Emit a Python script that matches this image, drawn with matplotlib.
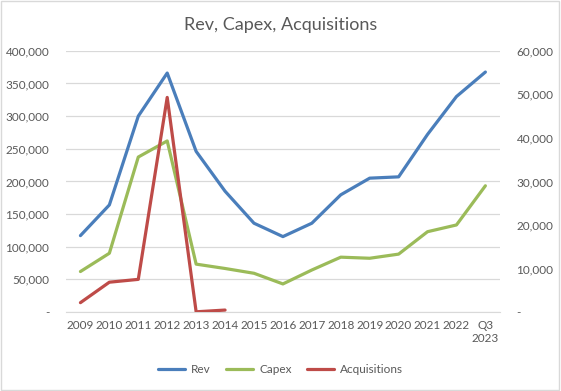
import numpy as np
import matplotlib
matplotlib.use("Agg")
import matplotlib.pyplot as plt
from matplotlib.ticker import FuncFormatter

# data
years = ["2009", "2010", "2011", "2012", "2013", "2014", "2015", "2016",
         "2017", "2018", "2019", "2020", "2021", "2022", "Q3\n2023"]
rev = [117000, 164000, 300000, 366000, 246000, 185000, 136000, 115500,
       136000, 179500, 205000, 207000, 272000, 330000, 367500]
capex = [9300, 13500, 35600, 39300, 11000, 10000, 8900, 6450,
         9650, 12600, 12350, 13300, 18450, 20000, 29000]
acquisitions = [2150, 6850, 7500, 49300, 50, 450,
                np.nan, np.nan, np.nan, np.nan, np.nan, np.nan, np.nan, np.nan, np.nan]

plt.rcParams['font.family'] = ['Lato', 'DejaVu Sans']
txt = "#595959"


def fmt(v, pos):
    if abs(v) < 1e-9:
        return "-"
    return "{:,.0f}".format(v)


fig = plt.figure(figsize=(5.61, 3.91), dpi=100)
ax = fig.add_axes([0.1176, 0.202, 0.7734, 0.668])
ax2 = ax.twinx()

x = np.arange(len(years))
l1, = ax.plot(x, rev, color="#4A7EBB", lw=2.3, label="Rev", solid_capstyle="round")
l2, = ax2.plot(x, capex, color="#9BBB59", lw=2.3, label="Capex", solid_capstyle="round")
l3, = ax2.plot(x, acquisitions, color="#BE4B48", lw=2.3, label="Acquisitions", solid_capstyle="round")

ax.set_xlim(-0.5, len(years) - 0.5)
ax.set_ylim(0, 400000)
ax2.set_ylim(0, 60000)
ax.set_yticks(np.arange(0, 400001, 50000))
ax2.set_yticks(np.arange(0, 60001, 10000))
ax.yaxis.set_major_formatter(FuncFormatter(fmt))
ax2.yaxis.set_major_formatter(FuncFormatter(fmt))
ax.set_xticks(x)
ax.set_xticklabels(years)

ax.grid(axis="y", color="#D9D9D9", lw=0.9)
ax.set_axisbelow(True)
for a in (ax, ax2):
    for s in a.spines.values():
        s.set_visible(False)
    a.tick_params(length=0, labelsize=8.5, labelcolor=txt)
ax.spines["bottom"].set_visible(True)
ax.spines["bottom"].set_color("#D9D9D9")
ax.tick_params(axis="y", pad=12)
ax2.tick_params(axis="y", pad=12)
ax.tick_params(axis="x", pad=6)

fig.suptitle("Rev, Capex, Acquisitions", y=0.957, fontsize=13, color=txt)

fig.legend(handles=[l1, l2, l3], loc="center", bbox_to_anchor=(0.5, 0.055),
           ncol=3, frameon=False, fontsize=8.5, labelcolor=txt,
           handlelength=2.3, columnspacing=1.3, handletextpad=0.5)

fig.patches.append(plt.Rectangle((0.002, 0.003), 0.994, 0.994, transform=fig.transFigure,
                                 fill=False, edgecolor="#D9D9D9", lw=1))

fig.savefig("out.png", dpi=100)
